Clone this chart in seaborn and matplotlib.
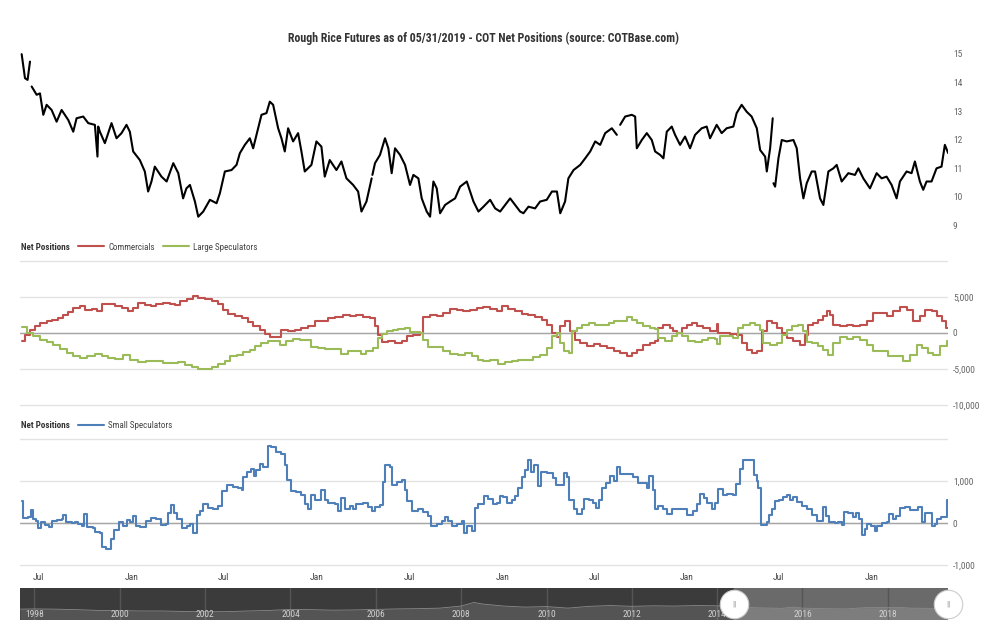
import numpy as np
import pandas as pd
import matplotlib
matplotlib.use("Agg")
import matplotlib.pyplot as plt
import matplotlib.dates as mdates
import seaborn as sns

# ---------------- DATA (decimal years) ----------------
title_text = "Rough Rice Futures as of 05/31/2019 - COT Net Positions (source: COTBase.com)"

price_year = [2014.404, 2014.422, 2014.436, 2014.449, 2014.453, 2014.458, 2014.485, 2014.503, 2014.521, 2014.539,
              2014.566, 2014.593, 2014.620, 2014.656, 2014.683, 2014.701, 2014.737, 2014.764, 2014.800, 2014.814,
              2014.818, 2014.827, 2014.854, 2014.890, 2014.917, 2014.944, 2014.971, 2014.989, 2015.007, 2015.043,
              2015.070, 2015.088, 2015.106, 2015.124, 2015.160, 2015.188, 2015.224, 2015.251, 2015.277, 2015.295,
              2015.314, 2015.341, 2015.359, 2015.386, 2015.422, 2015.458, 2015.476, 2015.503, 2015.539, 2015.566,
              2015.584, 2015.611, 2015.638, 2015.656, 2015.674, 2015.701, 2015.728, 2015.746, 2015.764, 2015.791,
              2015.809, 2015.827, 2015.845, 2015.872, 2015.899, 2015.917, 2015.935, 2015.971, 2015.998, 2016.025,
              2016.043, 2016.070, 2016.106, 2016.133, 2016.160, 2016.196, 2016.223, 2016.241, 2016.268, 2016.286,
              2016.296, 2016.298, 2016.300, 2016.314, 2016.341, 2016.368, 2016.386, 2016.404, 2016.422, 2016.449,
              2016.476, 2016.503, 2016.521, 2016.548, 2016.566, 2016.593, 2016.611, 2016.629, 2016.647, 2016.665,
              2016.692, 2016.719, 2016.746, 2016.773, 2016.809, 2016.827, 2016.845, 2016.872, 2016.899, 2016.935,
              2016.962, 2016.989, 2017.016, 2017.043, 2017.070, 2017.097, 2017.115, 2017.142, 2017.178, 2017.205,
              2017.241, 2017.269, 2017.296, 2017.314, 2017.340, 2017.358, 2017.386, 2017.422, 2017.449, 2017.476,
              2017.503, 2017.530, 2017.557, 2017.593, 2017.620, 2017.628, 2017.638, 2017.665, 2017.701, 2017.719,
              2017.728, 2017.755, 2017.782, 2017.809, 2017.827, 2017.854, 2017.872, 2017.890, 2017.917, 2017.935,
              2017.962, 2017.989, 2018.016, 2018.043, 2018.079, 2018.106, 2018.124, 2018.160, 2018.187, 2018.214,
              2018.250, 2018.268, 2018.295, 2018.322, 2018.349, 2018.377, 2018.395, 2018.422, 2018.431, 2018.449,
              2018.463, 2018.465, 2018.467, 2018.476, 2018.494, 2018.512, 2018.539, 2018.575, 2018.593, 2018.611,
              2018.629, 2018.647, 2018.674, 2018.692, 2018.719, 2018.737, 2018.764, 2018.791, 2018.809, 2018.836,
              2018.872, 2018.908, 2018.926, 2018.953, 2018.989, 2019.025, 2019.052, 2019.079, 2019.106, 2019.133,
              2019.151, 2019.187, 2019.214, 2019.232, 2019.259, 2019.277, 2019.295, 2019.322, 2019.349, 2019.376,
              2019.394, 2019.412]
nan = float("nan")
price_value = [14.99, 14.15, 14.09, 14.73, nan, 13.86, 13.57, 13.62, 12.87, 13.22,
               13.04, 12.63, 13.04, 12.69, 12.28, 12.75, 12.81, 12.58, 12.52, 11.41,
               12.46, 12.28, 11.88, 12.58, 12.05, 12.23, 12.52, 12.28, 11.59, 11.29,
               10.89, 10.19, 10.54, 11.06, 10.71, 10.54, 11.18, 10.83, 9.95, 10.30,
               10.42, 9.84, 9.31, 9.49, 9.90, 9.78, 10.13, 10.89, 10.94, 11.12,
               11.53, 11.82, 12.05, 11.70, 12.17, 12.87, 12.93, 13.33, 13.22, 12.40,
               12.05, 11.59, 12.40, 11.94, 12.23, 11.59, 10.89, 11.12, 11.94, 11.76,
               10.71, 11.29, 10.94, 11.24, 10.65, 10.42, 10.19, 9.49, 9.84, 10.36,
               10.65, nan, 10.77, 11.18, 11.47, 12.05, 11.70, 10.83, 11.70, 11.47,
               11.12, 10.42, 10.77, 10.65, 9.95, 9.49, 9.31, 10.54, 10.30, 9.43,
               9.72, 9.84, 9.95, 10.36, 10.54, 10.19, 9.84, 9.49, 9.66, 9.90,
               9.60, 9.49, 9.72, 9.95, 9.72, 9.49, 9.43, 9.66, 9.60, 9.84,
               9.90, 10.19, 10.19, 9.43, 9.84, 10.65, 10.94, 11.12, 11.35, 11.59,
               11.94, 11.82, 12.23, 12.40, 12.17, nan, 12.52, 12.81, 12.87, 12.81,
               11.70, 11.99, 12.23, 11.99, 11.59, 11.47, 11.35, 12.28, 12.46, 12.17,
               11.82, 12.11, 11.70, 12.17, 12.40, 12.46, 12.05, 12.52, 12.23, 12.40,
               12.46, 12.93, 13.22, 12.98, 12.81, 12.40, 11.64, 11.41, 10.89, 11.70,
               12.75, nan, 10.48, 10.36, 11.35, 11.99, 11.94, 11.99, 11.70, 10.65,
               9.95, 10.48, 10.89, 10.89, 9.95, 9.72, 10.89, 11.00, 11.12, 10.54,
               10.83, 10.77, 11.00, 10.65, 10.30, 10.83, 10.65, 10.71, 10.42, 9.95,
               10.54, 10.89, 10.83, 11.24, 10.54, 10.25, 10.54, 10.54, 11.00, 11.06,
               11.82, 11.53]
price_ticks = [9, 10, 11, 12, 13, 14, 15]

comm_year = [2014.404, 2014.422, 2014.449, 2014.476, 2014.503, 2014.539, 2014.566, 2014.602, 2014.629, 2014.656,
             2014.683, 2014.719, 2014.746, 2014.782, 2014.809, 2014.836, 2014.872, 2014.908, 2014.944, 2014.980,
             2015.007, 2015.034, 2015.070, 2015.106, 2015.133, 2015.169, 2015.205, 2015.232, 2015.259, 2015.296,
             2015.332, 2015.359, 2015.395, 2015.431, 2015.467, 2015.494, 2015.521, 2015.557, 2015.593, 2015.629,
             2015.656, 2015.692, 2015.719, 2015.746, 2015.782, 2015.809, 2015.845, 2015.881, 2015.917, 2015.953,
             2015.989, 2016.025, 2016.061, 2016.097, 2016.142, 2016.178, 2016.214, 2016.250, 2016.287, 2016.314,
             2016.332, 2016.350, 2016.386, 2016.422, 2016.458, 2016.485, 2016.521, 2016.557, 2016.575, 2016.611,
             2016.647, 2016.683, 2016.719, 2016.755, 2016.791, 2016.827, 2016.863, 2016.899,
             2016.935, 2016.971, 2016.998, 2017.034, 2017.070, 2017.106, 2017.142, 2017.178, 2017.214, 2017.241,
             2017.269, 2017.296, 2017.314, 2017.341, 2017.359, 2017.368, 2017.395, 2017.422, 2017.458, 2017.494,
             2017.530, 2017.566, 2017.602, 2017.638, 2017.674, 2017.701, 2017.728, 2017.764, 2017.800, 2017.827,
             2017.845, 2017.872, 2017.908, 2017.926, 2017.944, 2017.971, 2017.998, 2018.025, 2018.052, 2018.088,
             2018.124, 2018.151, 2018.160, 2018.169, 2018.196, 2018.232, 2018.268, 2018.295, 2018.322, 2018.350,
             2018.377, 2018.404, 2018.431, 2018.458, 2018.485, 2018.512, 2018.539, 2018.575, 2018.611, 2018.638,
             2018.656, 2018.683, 2018.710, 2018.737, 2018.755, 2018.773, 2018.791, 2018.827, 2018.863, 2018.899,
             2018.935, 2018.971, 2019.007, 2019.043, 2019.079, 2019.115, 2019.151, 2019.187, 2019.223, 2019.260,
             2019.287, 2019.322, 2019.349, 2019.377, 2019.400, 2019.411]
comm_value = [-1150, -230, 460, 920, 1380, 1610, 1840, 2070, 2530, 2990,
              3460, 3690, 3230, 3360, 3090, 4010, 4010, 3690, 3460, 3090,
              3460, 4150, 3920, 3690, 4010, 4150, 4010, 3920, 4470, 4750,
              5160, 4930, 4750, 4470, 4010, 3230, 2630, 2300, 2070, 1520,
              920, 460, -140, -600, -600, 460, 230, 460, 690, 920,
              1700, 1610, 2070, 2210, 2440, 2300, 2530, 2210, 2070, 920,
              -230, -1240, -1060, -1380, -1150, -460, -230, 0, 2170, 2440,
              2300, 2760, 3360, 3230, 3090, 3230, 3460, 3550,
              3360, 3090, 3690, 3360, 3000, 2630, 2440, 2170, 1840, 1150,
              0, -600, 920, 1700, 1610, 230, -920, -1380, -1840, -1520,
              -1840, -2070, -2530, -2760, -3230, -2760, -2300, -1610, -1380, -1150,
              690, 1150, 690, 230, 0, 690, 1060, 1380, 920, 690,
              320, 320, 1240, 0, 0, -140, -230, -1380, -2300, -2760,
              -2530, 230, 1610, 1380, 690, 0, -690, -1150, -1610, -230,
              1150, 1380, 1840, 2300, 3000, 2530, 1150, 920, 1060, 920,
              1150, 1610, 2760, 2760, 2300, 3000, 3550, 3230, 1610, 2300,
              3230, 3000, 2300, 1610, 690, 690]

large_year = [2014.404, 2014.431, 2014.467, 2014.503, 2014.539, 2014.575, 2014.611, 2014.647, 2014.683, 2014.719,
              2014.755, 2014.800, 2014.836, 2014.872, 2014.908, 2014.953, 2014.989, 2015.034, 2015.079, 2015.124,
              2015.169, 2015.214, 2015.250, 2015.286, 2015.323, 2015.359, 2015.395, 2015.431, 2015.467, 2015.503,
              2015.530, 2015.566, 2015.602, 2015.638, 2015.665, 2015.701, 2015.737, 2015.773, 2015.800, 2015.836,
              2015.872, 2015.908, 2015.944, 2015.971, 2016.007, 2016.043, 2016.097, 2016.133, 2016.169, 2016.205,
              2016.241, 2016.268, 2016.305, 2016.332, 2016.350, 2016.377, 2016.413, 2016.440, 2016.476, 2016.503,
              2016.530, 2016.557, 2016.575, 2016.602, 2016.647, 2016.683, 2016.719, 2016.764, 2016.800, 2016.836,
              2016.872, 2016.899,
              2016.935, 2016.980, 2017.016, 2017.052, 2017.088, 2017.133, 2017.169, 2017.205, 2017.241, 2017.269,
              2017.296, 2017.314, 2017.332, 2017.359, 2017.377, 2017.404, 2017.431, 2017.467, 2017.503, 2017.539,
              2017.575, 2017.602, 2017.638, 2017.674, 2017.701, 2017.728, 2017.764, 2017.800, 2017.827, 2017.845,
              2017.881, 2017.917, 2017.944, 2017.971, 2018.007, 2018.043, 2018.079, 2018.115, 2018.151, 2018.160,
              2018.178, 2018.214, 2018.250, 2018.277, 2018.304, 2018.340, 2018.368, 2018.395, 2018.413, 2018.449,
              2018.485, 2018.512, 2018.539, 2018.566, 2018.602, 2018.629, 2018.647, 2018.674, 2018.710, 2018.737,
              2018.764, 2018.791, 2018.827, 2018.863, 2018.899, 2018.935, 2018.971, 2019.007, 2019.043, 2019.088,
              2019.133, 2019.169, 2019.205, 2019.241, 2019.268, 2019.305, 2019.332, 2019.368, 2019.404, 2019.411]
large_value = [780, 0, -460, -920, -1240, -1610, -2170, -2760, -3230, -3460,
               -3230, -2860, -3230, -3460, -3550, -3000, -3690, -4010, -3920, -3830,
               -4150, -4150, -4010, -4470, -4750, -5070, -5070, -4750, -4380, -3920,
               -3230, -3000, -2670, -2300, -1840, -1380, -1150, -1060, -1610, -1150,
               -780, -920, -920, -1980, -2070, -2170, -2170, -2900, -2530, -2530,
               -2900, -2440, -2070, -690, -140, 230, 460, 600, 690, 140,
               90, 0, -920, -1980, -1980, -2530, -2900, -3090, -2760, -3230,
               -3690, -3830,
               -3690, -4290, -4010, -3830, -3690, -3690, -3360, -3000, -2070, -460,
               0, -1380, -2530, -2760, 230, 690, 1060, 1380, 1060, 1060,
               1380, 1610, 1700, 2170, 1840, 1380, 920, 690, 600, -690,
               -1060, -460, 0, -460, -1060, -1240, -920, -690, -780, -1520,
               -460, -460, -690, 690, 1150, 1380, 1150, 460, -1380, -1610,
               -1380, -230, 460, 920, 1150, 230, -1240, -1380, -1840, -2300,
               -3000, -1380, -600, -780, -600, -920, -1610, -2440, -2530, -3230,
               -3230, -3830, -3000, -1610, -2070, -2760, -3000, -1840, -1060, -1060]
cot_ticks = [-10000, -5000, 0, 5000, 10000]
cot_tick_labels = ["-10,000", "-5,000", "0", "5,000", ""]

small_year = [2014.404, 2014.409, 2014.440, 2014.452, 2014.467, 2014.481, 2014.494, 2014.506, 2014.530, 2014.553,
              2014.566, 2014.593, 2014.620, 2014.629, 2014.643, 2014.674, 2014.692, 2014.710, 2014.733, 2014.741,
              2014.759, 2014.791, 2014.800, 2014.827, 2014.836, 2014.860, 2014.878, 2014.885, 2014.903, 2014.932,
              2014.950, 2014.971, 2014.989, 2015.007, 2015.022, 2015.043, 2015.079, 2015.101, 2015.133, 2015.160,
              2015.187, 2015.196, 2015.214, 2015.227, 2015.245, 2015.269, 2015.296, 2015.314, 2015.328, 2015.346,
              2015.353, 2015.368, 2015.386, 2015.413, 2015.440, 2015.467, 2015.485, 2015.512, 2015.548, 2015.575,
              2015.593, 2015.602, 2015.620, 2015.642, 2015.660, 2015.674, 2015.692, 2015.710, 2015.737, 2015.755,
              2015.782, 2015.809, 2015.827, 2015.840, 2015.858, 2015.890, 2015.917, 2015.935, 2015.953, 2015.971,
              2015.989, 2016.016, 2016.025, 2016.043, 2016.061, 2016.097, 2016.115, 2016.133, 2016.151, 2016.178,
              2016.196, 2016.214, 2016.250, 2016.277, 2016.296, 2016.314, 2016.341, 2016.355, 2016.368, 2016.395,
              2016.404, 2016.431, 2016.458, 2016.476, 2016.488, 2016.512, 2016.548, 2016.575, 2016.602, 2016.616,
              2016.647, 2016.674, 2016.692, 2016.710, 2016.728, 2016.755, 2016.782, 2016.795, 2016.809, 2016.836,
              2016.854, 2016.872, 2016.903, 2016.926, 2016.950, 2016.971, 2016.989, 2017.007, 2017.025, 2017.052,
              2017.070, 2017.088, 2017.106, 2017.124, 2017.137, 2017.155, 2017.173, 2017.191, 2017.209, 2017.242,
              2017.274, 2017.292, 2017.314, 2017.332, 2017.350, 2017.364, 2017.386, 2017.407, 2017.431, 2017.443,
              2017.472, 2017.490, 2017.508, 2017.521, 2017.539, 2017.562, 2017.584, 2017.602, 2017.620, 2017.638,
              2017.683, 2017.706, 2017.732, 2017.764, 2017.782, 2017.796, 2017.814, 2017.827, 2017.845, 2017.872,
              2017.894, 2017.917, 2017.944, 2017.971, 2017.998, 2018.031, 2018.052, 2018.070, 2018.092, 2018.106,
              2018.133, 2018.151, 2018.169, 2018.193, 2018.214, 2018.250, 2018.265, 2018.287, 2018.305, 2018.323,
              2018.350, 2018.362, 2018.377, 2018.386, 2018.398, 2018.422, 2018.434, 2018.445, 2018.458, 2018.476,
              2018.499, 2018.517, 2018.539, 2018.557, 2018.575, 2018.593, 2018.620, 2018.647, 2018.674, 2018.701,
              2018.719, 2018.733, 2018.751, 2018.769, 2018.800, 2018.818, 2018.836, 2018.849, 2018.872, 2018.899,
              2018.914, 2018.932, 2018.944, 2018.962, 2018.975, 2018.993, 2019.016, 2019.029, 2019.052, 2019.079,
              2019.094, 2019.112, 2019.130, 2019.151, 2019.178, 2019.205, 2019.238, 2019.251, 2019.269, 2019.287,
              2019.314, 2019.323, 2019.341, 2019.353, 2019.371, 2019.395, 2019.404, 2019.411]
small_value = [520, 130, 155, 310, 93, 54, -124, 15, -46, -100,
               54, 70, 108, 186, 15, 0, 31, -23, -62, 210,
               -100, -124, -217, -232, -566, -605, -605, -372, -155, 15,
               -62, 78, 31, 170, -62, -100, 54, 132, 93, -46,
               -23, 232, 418, 248, 93, -108, -77, -23, -232, -232,
               186, 287, 442, 364, 325, 403, 752, 907, 853, 829,
               790, 1100, 1217, 1294, 1116, 1256, 1411, 1333, 1837, 1798,
               1682, 1628, 1372, 1023, 752, 729, 674, 442, 341, 674,
               543, 558, 790, 558, 465, 442, 287, 597, 325, 403,
               325, 442, 465, 388, 287, 388, 418, 984, 1372, 1333,
               907, 984, 1023, 790, 520, 287, 325, 264, 170, -62,
               -23, 54, 155, 54, -77, -23, 54, -232, -62, -178,
               364, 442, 651, 574, 442, 481, 651, 620, 465, 558,
               651, 829, 1100, 1256, 1488, 1217, 1372, 884, 1217, 1178,
               1062, 907, 907, 1194, 1100, 558, 325, 210, 341, 574,
               558, 465, 364, 558, 829, 946, 1116, 1008, 1333, 1163,
               1163, 1100, 946, 961, 829, 1116, 790, 341, 403, 325,
               210, 341, 341, 325, 186, 287, 442, 698, 597, 465,
               341, 481, 806, 674, 698, 674, 930, 1271, 1504, 1488,
               1504, 1140, 1008, 829, -46, -46, 15, 186, 325, 520,
               543, 620, 674, 558, 620, 496, 403, 341, 186, 54,
               54, 388, 170, 31, 0, 31, -46, 264, 232, 155,
               232, 93, -294, -140, -23, -77, -178, -62, 0, 15,
               210, 93, 170, 364, 388, 310, 310, 388, 15, 232,
               248, -77, -23, 93, 155, 155, 558, 558]
small_ticks = [-1000, 0, 1000, 2000]
small_tick_labels = ["-1,000", "0", "1,000", ""]

nav_year = [1997.66, 1998.0, 1998.5, 1999.0, 1999.5, 2000.0, 2000.5, 2001.0, 2001.5, 2002.0, 2002.5, 2003.0,
            2003.5, 2004.0, 2004.5, 2005.0, 2005.5, 2006.0, 2006.5, 2007.0, 2007.5, 2008.0, 2008.3, 2008.5,
            2009.0, 2009.5, 2010.0, 2010.5, 2011.0, 2011.5, 2012.0, 2012.5, 2013.0, 2013.5, 2014.0, 2014.4,
            2014.5, 2015.0, 2015.5, 2015.8, 2016.0, 2016.5, 2017.0, 2017.5, 2018.0, 2018.3, 2018.5, 2019.0, 2019.41]
nav_value = [9.0, 9.5, 9.0, 8.0, 6.5, 6.0, 5.5, 5.5, 4.5, 4.0, 4.2, 5.5,
             6.5, 8.5, 8.0, 7.0, 7.5, 8.5, 9.5, 10.0, 11.0, 15.0, 22.0, 19.0,
             15.0, 13.0, 14.0, 11.0, 14.5, 16.0, 14.5, 15.5, 15.0, 16.0, 15.5, 14.0,
             13.0, 11.5, 10.5, 13.0, 11.0, 10.0, 9.5, 12.0, 12.0, 12.5, 11.0, 10.5, 11.5]
nav_label_years = [1998, 2000, 2002, 2004, 2006, 2008, 2010, 2012, 2014, 2016, 2018]
window_start, window_end = 2014.395, 2019.411

series_names = ["Commercials", "Large Speculators", "Small Speculators"]
series_colors = ["#c0504d", "#9bbb59", "#4f7fb8"]


def to_date(years):
    out = []
    for v in years:
        y = int(np.floor(v))
        a = pd.Timestamp(year=y, month=1, day=1)
        b = pd.Timestamp(year=y + 1, month=1, day=1)
        out.append(a + (b - a) * (v - y))
    return pd.to_datetime(out)


# ---------------- STYLE ----------------
sns.set_theme(style="white")
plt.rcParams["font.family"] = ["Liberation Sans Narrow", "Roboto Condensed", "Liberation Sans", "DejaVu Sans"]

W, H = 1000, 620
fig = plt.figure(figsize=(W / 100, H / 100), dpi=100)
fig.patch.set_facecolor("white")


def px_axes(x0, y0, x1, y1):
    return fig.add_axes([x0 / W, 1 - y1 / H, (x1 - x0) / W, (y1 - y0) / H])


xmin, xmax = to_date([window_start, window_end])
lab_col = "#666666"
fs = 6.8

ax_p = px_axes(20, 45, 948, 233)
ax_c = px_axes(20, 259, 948, 407)
ax_s = px_axes(20, 437.5, 948, 566.5)
ax_n = px_axes(20, 588, 948, 620)

# ---------------- PRICE ----------------
pdf = pd.DataFrame({"date": to_date(price_year), "price": price_value})
pdf["seg"] = pdf["price"].isna().cumsum()
pdf = pdf.dropna()
sns.lineplot(data=pdf, x="date", y="price", units="seg", estimator=None, color="black",
             lw=1.5, ax=ax_p, legend=False)
ax_p.set_ylim(8.74, 15.31)
ax_p.set_yticks(price_ticks)
ax_p.set_yticklabels([str(t) for t in price_ticks])

# ---------------- COT big ----------------
cdf = pd.DataFrame({"date": to_date(comm_year), "v": comm_value})
ldf = pd.DataFrame({"date": to_date(large_year), "v": large_value})
ax_c.axhline(0, color="#a6a6a6", lw=1.0, zorder=1)
sns.lineplot(data=cdf, x="date", y="v", color=series_colors[0], lw=1.5, drawstyle="steps-post",
             label=series_names[0], ax=ax_c, zorder=3)
sns.lineplot(data=ldf, x="date", y="v", color=series_colors[1], lw=1.5, drawstyle="steps-post",
             label=series_names[1], ax=ax_c, zorder=3)
ax_c.set_ylim(-10300, 10300)
ax_c.set_yticks(cot_ticks)
ax_c.set_yticklabels(cot_tick_labels)

# ---------------- Small specs ----------------
sdf = pd.DataFrame({"date": to_date(small_year), "v": small_value})
ax_s.axhline(0, color="#a6a6a6", lw=1.0, zorder=1)
sns.lineplot(data=sdf, x="date", y="v", color=series_colors[2], lw=1.5, drawstyle="steps-post",
             label=series_names[2], ax=ax_s, zorder=3)
ax_s.set_ylim(-1030, 2030)
ax_s.set_yticks(small_ticks)
ax_s.set_yticklabels(small_tick_labels)

for ax in (ax_p, ax_c, ax_s):
    ax.set_xlim(xmin, xmax)
    ax.set_xlabel("")
    ax.set_ylabel("")
    for sp in ax.spines.values():
        sp.set_visible(False)
    ax.yaxis.tick_right()
    ax.tick_params(axis="y", length=0, pad=3.5, labelsize=fs, labelcolor=lab_col)
    ax.set_facecolor("white")

for ax in (ax_c, ax_s):
    ax.grid(axis="y", color="#e3e3e3", lw=1.0)
    ax.grid(axis="x", visible=False)
ax_p.grid(False)

for ax in (ax_p, ax_c):
    ax.tick_params(axis="x", bottom=False, labelbottom=False)

ax_s.xaxis.set_major_locator(mdates.MonthLocator(bymonth=[1, 7]))
ax_s.xaxis.set_major_formatter(mdates.DateFormatter("%b"))
ax_s.tick_params(axis="x", length=0, pad=5, labelsize=fs, labelcolor="#444444")

# legends
def make_legend(ax, y_px):
    h, l = ax.get_legend_handles_labels()
    lg = ax.legend(h, l, loc="center left", bbox_to_anchor=(78 / W, 1 - y_px / H),
                   bbox_transform=fig.transFigure, ncol=len(h), frameon=False, fontsize=6.5,
                   handlelength=2.9, handletextpad=0.45, columnspacing=0.9, borderaxespad=0, borderpad=0)
    for t in lg.get_texts():
        t.set_color("#444444")
    fig.text(21 / W, 1 - y_px / H, "Net Positions", fontsize=6.5, fontweight="bold", color="#333333",
             va="center", ha="left")

make_legend(ax_c, 247)
make_legend(ax_s, 426)

fig.text(484 / W, 1 - 38 / H, title_text, fontsize=8.6, fontweight="bold", color="#333333",
         ha="center", va="center")

# ---------------- Navigator ----------------
ndf = pd.DataFrame({"date": to_date(nav_year), "v": nav_value})
nmin, nmax = to_date([1997.66, 2019.41])
ax_n.set_facecolor("#3b3b3b")
ax_n.axvspan(to_date([window_start])[0], nmax, color="#6a6a6a", zorder=0)
for yv in nav_label_years:
    ax_n.axvline(pd.Timestamp(year=yv, month=1, day=1), color="#555555", lw=1, zorder=1)
ax_n.fill_between(ndf["date"], -20, ndf["v"], color="white", alpha=0.13, lw=0, zorder=2)
sns.lineplot(data=ndf, x="date", y="v", color="#8a8a8a", lw=0.6, ax=ax_n, zorder=2)
ax_n.set_xlim(nmin, nmax)
ax_n.set_ylim(-12, 50)
ax_n.set_xticks([])
ax_n.set_yticks([])
ax_n.set_xlabel("")
ax_n.set_ylabel("")
for sp in ax_n.spines.values():
    sp.set_visible(False)
for yv in nav_label_years:
    ax_n.text(pd.Timestamp(year=yv, month=1, day=1), -2, str(yv), color="#d0d0d0", fontsize=fs,
              ha="center", va="center", zorder=4)
hx = to_date([window_start, window_end])
ax_n.scatter(hx, [19, 19], s=420, facecolor="white", edgecolor="#cccccc", lw=0.8, zorder=6, clip_on=False)
for x in hx:
    ax_n.text(x, 19, "||", color="#888888", fontsize=6, ha="center", va="center", zorder=7, clip_on=False)

fig.savefig("out.png", dpi=100, facecolor="white")
